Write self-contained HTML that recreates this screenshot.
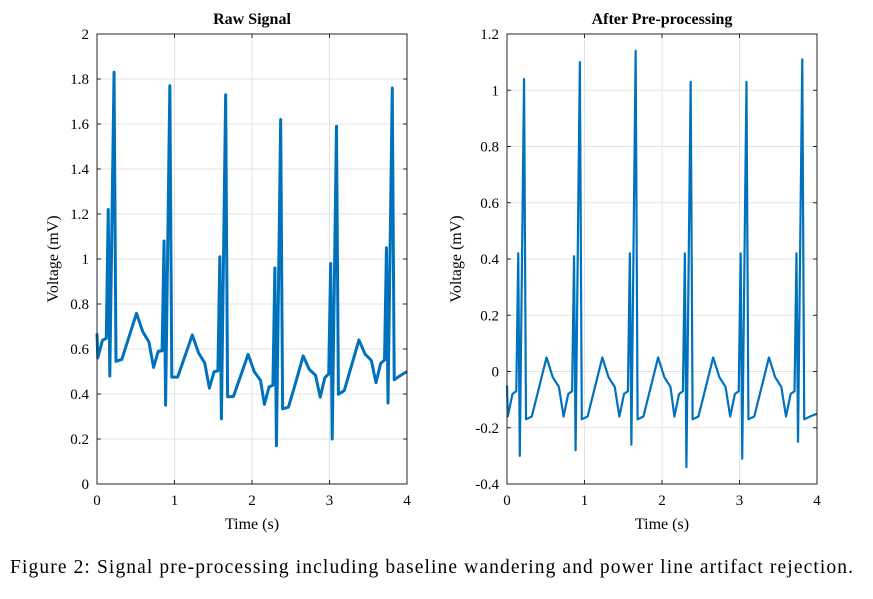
<!DOCTYPE html>
<html><head><meta charset="utf-8"><style>
body{margin:0;background:#fff;width:873px;height:599px;overflow:hidden}
svg{display:block}
text{font-family:"Liberation Serif",serif;fill:#000}
</style></head><body>
<svg id="fig" width="873" height="599"></svg>
<script>
// ---- data ----
const rTimes = [0.22, 0.94, 1.66, 2.37, 3.09, 3.81];
const rightPeaks = [1.04, 1.10, 1.14, 1.03, 1.03, 1.11];
const rightPre = [0.42, 0.41, 0.42, 0.42, 0.42, 0.42];
const rightTrough = [-0.30, -0.28, -0.26, -0.34, -0.31, -0.25];
const leftPeaks = [1.83, 1.77, 1.73, 1.62, 1.59, 1.76];
const leftPre = [1.22, 1.08, 1.01, 0.96, 0.98, 1.05];
const leftTrough = [0.48, 0.35, 0.29, 0.17, 0.20, 0.36];
const wanderT = [0, 0.5, 1.0, 1.5, 2.0, 2.5, 3.0, 3.5, 4.0];
const wanderV = [0.72, 0.71, 0.64, 0.58, 0.52, 0.50, 0.56, 0.60, 0.65];
const leftYTicks = [0,0.2,0.4,0.6,0.8,1,1.2,1.4,1.6,1.8,2];
const rightYTicks = [-0.4,-0.2,0,0.2,0.4,0.6,0.8,1,1.2];
const xTicks = [0,1,2,3,4];
// beat shape (offset from R, level) for non-spike parts
const shapeDt = [-0.21,-0.15,-0.1,0.025,0.1,0.2,0.29,0.37,0.45];
const shapeV  = [-0.16,-0.08,-0.07,-0.17,-0.16,-0.05,0.05,-0.02,-0.055];

const NS="http://www.w3.org/2000/svg";
const svg=document.getElementById('fig');
function el(tag,attrs,parent){const e=document.createElementNS(NS,tag);for(const k in attrs)e.setAttribute(k,attrs[k]);(parent||svg).appendChild(e);return e;}
function wander(t){for(let i=0;i<wanderT.length-1;i++){if(t<=wanderT[i+1]){const f=(t-wanderT[i])/(wanderT[i+1]-wanderT[i]);return wanderV[i]+f*(wanderV[i+1]-wanderV[i]);}}return wanderV[wanderV.length-1];}

function buildSignal(peaks,pre,trough,useWander){
  const pts=[];
  const off=t=>useWander?wander(t):0;
  pts.push([0,-0.05+off(0)]);
  for(let b=0;b<rTimes.length;b++){
    const tr=rTimes[b];
    for(let k=0;k<shapeDt.length;k++){
      const t=tr+shapeDt[k];
      if(shapeDt[k]===0.025){pts.push([tr,peaks[b]]);}
      if(t>=0&&t<=4)pts.push([t,shapeV[k]+off(t)]);
      if(shapeDt[k]===-0.1){pts.push([tr-0.075,pre[b]]);pts.push([tr-0.055,trough[b]]);}
    }
  }
  pts.push([4,-0.15+off(4)]);
  return pts;
}

function plot(cfg){
  const {x0,x1,y0,y1,ymin,ymax,yTicks,title,name,pts,sw}=cfg;
  const g=el('g',{});
  
  
  const X=v=>x0+(v-0)/4*(x1-x0);
  const Y=v=>y1-(v-ymin)/(ymax-ymin)*(y1-y0);
  for(const t of xTicks){
    el('line',{x1:X(t),x2:X(t),y1:y0,y2:y1,stroke:'#e3e3e3','stroke-width':1},g);
    el('line',{x1:X(t),x2:X(t),y1:y1,y2:y1-4,stroke:'#262626'},g);
    el('line',{x1:X(t),x2:X(t),y1:y0,y2:y0+4,stroke:'#262626'},g);
    const tx=el('text',{x:X(t),y:y1+21,'text-anchor':'middle','font-size':15},g);tx.textContent=t;
    
    
  }
  for(const v of yTicks){
    el('line',{x1:x0,x2:x1,y1:Y(v),y2:Y(v),stroke:'#e3e3e3','stroke-width':1},g);
    el('line',{x1:x0,x2:x0+4,y1:Y(v),y2:Y(v),stroke:'#262626'},g);
    el('line',{x1:x1,x2:x1-4,y1:Y(v),y2:Y(v),stroke:'#262626'},g);
    const tx=el('text',{x:x0-8,y:Y(v)+5,'text-anchor':'end','font-size':15},g);tx.textContent=String(v);
    
    
  }
  const d=pts.map((p,i)=>(i?'L':'M')+X(p[0]).toFixed(2)+' '+Y(p[1]).toFixed(2)).join(' ');
  const path=el('path',{d:d,fill:'none',stroke:'#0072BD','stroke-width':sw,'stroke-linejoin':'round'},g);
  
  
  el('rect',{x:x0,y:y0,width:x1-x0,height:y1-y0,fill:'none',stroke:'#262626','stroke-width':1},g);
  const tt=el('text',{x:(x0+x1)/2,y:y0-10,'text-anchor':'middle','font-size':16,'font-weight':'bold'},g);tt.textContent=title;
  
  
  const xl=el('text',{x:(x0+x1)/2,y:y1+45,'text-anchor':'middle','font-size':16},g);xl.textContent='Time (s)';
  
  
  const yx=cfg.ylx, yy=(y0+y1)/2;
  const yl=el('text',{x:yx,y:yy,'text-anchor':'middle','font-size':16,transform:`rotate(-90 ${yx} ${yy})`},g);yl.textContent='Voltage (mV)';
  
  
}

plot({x0:97,x1:407,y0:34,y1:484,ymin:0,ymax:2,yTicks:leftYTicks,title:'Raw Signal',name:'raw-signal-plot',
  pts:buildSignal(leftPeaks,leftPre,leftTrough,true),sw:3,ylx:58});
plot({x0:507,x1:817,y0:34,y1:484,ymin:-0.4,ymax:1.2,yTicks:rightYTicks,title:'After Pre-processing',name:'processed-signal-plot',
  pts:buildSignal(rightPeaks,rightPre,rightTrough,false),sw:2.2,ylx:461});

const cap=el('text',{x:10,y:573,'font-size':19.5,textLength:843,lengthAdjust:'spacing'});
cap.textContent='Figure 2: Signal pre-processing including baseline wandering and power line artifact rejection.';


</script>
</body></html>
